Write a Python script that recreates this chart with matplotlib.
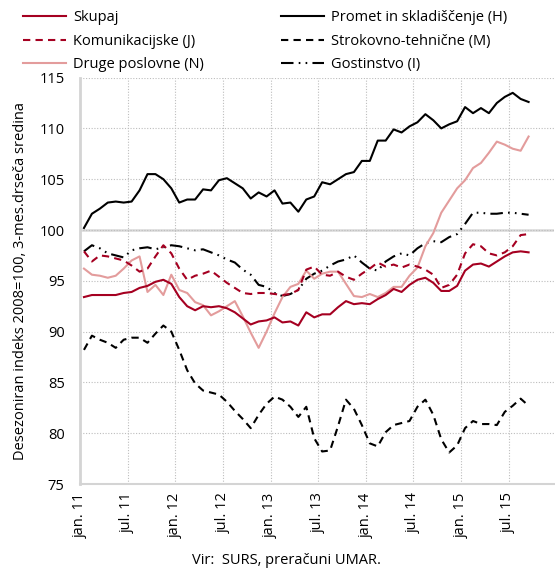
import numpy as np
import matplotlib
matplotlib.use("Agg")
import matplotlib.pyplot as plt
from matplotlib.transforms import ScaledTranslation

plt.rcParams["font.family"] = ["Open Sans", "DejaVu Sans"]

# monthly data, jan 2011 - sep 2015
skupaj = [93.4, 93.6, 93.6, 93.6, 93.6, 93.8, 93.9, 94.3, 94.5, 94.9, 95.1, 94.7, 93.4, 92.5, 92.1,
          92.5, 92.4, 92.5, 92.3, 91.9, 91.3, 90.7, 91.0, 91.1, 91.4, 90.9, 91.0, 90.6, 91.9, 91.4,
          91.7, 91.7, 92.4, 93.0, 92.7, 92.8, 92.7, 93.2, 93.6, 94.2, 93.9, 94.6, 95.1, 95.3, 94.8,
          94.0, 94.0, 94.5, 96.0, 96.6, 96.7, 96.4, 96.9, 97.4, 97.8, 97.9, 97.8]
komunikacijske = [97.9, 96.9, 97.5, 97.4, 97.2, 97.0, 96.5, 95.9, 96.2, 97.4, 98.5, 97.7, 96.2, 95.1, 95.5,
                  95.7, 96.0, 95.4, 94.8, 94.3, 93.8, 93.7, 93.8, 93.8, 93.7, 93.6, 93.7, 94.1, 96.1, 96.4,
                  95.6, 95.5, 95.9, 95.4, 95.1, 95.7, 96.2, 96.8, 96.4, 96.6, 96.3, 96.6, 96.4, 96.1, 95.6,
                  94.3, 94.6, 95.6, 97.7, 98.6, 98.4, 97.7, 97.5, 97.8, 98.4, 99.5, 99.6]
druge = [96.2, 95.6, 95.5, 95.3, 95.5, 96.2, 97.0, 97.4, 93.9, 94.6, 93.6, 95.6, 94.1, 93.8, 92.9,
         92.6, 91.6, 92.0, 92.5, 93.0, 91.5, 89.9, 88.4, 90.0, 91.8, 93.4, 94.4, 94.7, 96.0, 95.2,
         95.7, 95.9, 95.9, 94.7, 93.5, 93.4, 93.7, 93.4, 93.8, 94.4, 94.4, 95.5, 96.3, 98.4, 99.7,
         101.7, 102.9, 104.1, 104.9, 106.1, 106.6, 107.6, 108.7, 108.4, 108.0, 107.8, 109.2]
promet = [100.2, 101.6, 102.1, 102.7, 102.8, 102.7, 102.8, 103.9, 105.5, 105.5, 105.0, 104.1, 102.7, 103.0, 103.0,
          104.0, 103.9, 104.9, 105.1, 104.6, 104.1, 103.1, 103.7, 103.3, 103.9, 102.6, 102.7, 101.8, 103.0, 103.3,
          104.7, 104.5, 105.0, 105.5, 105.7, 106.8, 106.8, 108.8, 108.8, 109.9, 109.6, 110.2, 110.6, 111.4, 110.8,
          110.0, 110.4, 110.7, 112.1, 111.5, 112.0, 111.5, 112.5, 113.1, 113.5, 112.9, 112.6]
strokovno = [88.2, 89.6, 89.2, 88.9, 88.4, 89.2, 89.4, 89.4, 88.9, 89.8, 90.6, 90.0, 88.2, 86.2, 84.9,
             84.2, 84.0, 83.8, 83.1, 82.2, 81.4, 80.5, 81.8, 82.9, 83.6, 83.3, 82.6, 81.6, 82.6, 79.5,
             78.2, 78.3, 80.7, 83.3, 82.4, 80.8, 79.0, 78.7, 80.1, 80.8, 81.0, 81.2, 82.6, 83.3, 81.8,
             79.4, 78.1, 78.8, 80.5, 81.2, 80.9, 80.9, 80.8, 82.1, 82.7, 83.4, 82.7]
gostinstvo = [97.9, 98.5, 98.2, 97.7, 97.5, 97.3, 98.0, 98.2, 98.3, 98.1, 98.3, 98.5, 98.4, 98.2, 98.0,
              98.1, 97.8, 97.5, 97.1, 96.8, 96.1, 95.6, 94.6, 94.4, 93.8, 93.5, 93.7, 94.1, 95.2, 95.7,
              96.0, 96.5, 96.9, 97.1, 97.5, 96.8, 96.2, 96.0, 96.9, 97.4, 97.7, 97.5, 98.2, 98.7, 98.9,
              98.8, 99.3, 99.6, 100.6, 101.7, 101.7, 101.6, 101.6, 101.7, 101.7, 101.6, 101.5]

tick_labels = ["jan. 11", "jul. 11", "jan. 12", "jul. 12", "jan. 13", "jul. 13",
               "jan. 14", "jul. 14", "jan. 15", "jul. 15"]

dark_red = "#a50021"
pink = "#e39c9c"

fig = plt.figure(figsize=(5.55, 5.70), dpi=100)
ax = fig.add_axes([80 / 555, 1 - 484 / 570, 474 / 555, 406.4 / 570])

x = np.arange(len(skupaj)) + 0.5
lw = 1.5
ax.plot(x, gostinstvo, color="black", lw=lw, ls=(0, (6, 2.5, 0.8, 2.5, 0.8, 2.5)), label="Gostinstvo (I)")
ax.plot(x, strokovno, color="black", lw=lw, ls=(0, (3.5, 2.5)), label="Strokovno-tehnične (M)")
ax.plot(x, promet, color="black", lw=lw, label="Promet in skladiščenje (H)")
ax.plot(x, druge, color=pink, lw=lw, label="Druge poslovne (N)")
ax.plot(x, komunikacijske, color=dark_red, lw=lw, ls=(0, (3.5, 2.5)), label="Komunikacijske (J)")
ax.plot(x, skupaj, color=dark_red, lw=lw, label="Skupaj")

ax.set_xlim(0, 59.7)
ax.set_ylim(75, 115)
ax.set_yticks(np.arange(75, 116, 5))
ax.set_xticks(np.arange(0, 60, 6))
ax.set_xticklabels(tick_labels, rotation=90, va="top", ha="center")
for lab in ax.get_xticklabels():
    lab.set_transform(lab.get_transform() + ScaledTranslation(0.05, 0, fig.dpi_scale_trans))
ax.tick_params(axis="both", length=0, labelsize=10.5)
ax.tick_params(axis="y", pad=11)
ax.tick_params(axis="x", pad=6)

ax.grid(True, color="#bdbdbd", ls=(0, (1, 1.5)), lw=0.8)
ax.axhline(100, color="#d9d9d9", lw=1.8, zorder=1.5)
for s in ["top", "right"]:
    ax.spines[s].set_visible(False)
ax.spines["left"].set_color("#d4d4d4")
ax.spines["left"].set_linewidth(2)
ax.spines["bottom"].set_color("#d4d4d4")
ax.spines["bottom"].set_linewidth(1.5)

ax.set_ylabel("Desezoniran indeks 2008=100, 3-mes.drseča sredina", fontsize=10.5, labelpad=8)

h = {l.get_label(): l for l in ax.get_lines()}
left_items = ["Skupaj", "Komunikacijske (J)", "Druge poslovne (N)"]
right_items = ["Promet in skladiščenje (H)", "Strokovno-tehnične (M)", "Gostinstvo (I)"]
leg_kw = dict(loc="upper left", frameon=False, fontsize=10.5, handlelength=2.9,
              handletextpad=0.5, labelspacing=0.58, borderpad=0.2)
fig.legend([h[k] for k in left_items], left_items, bbox_to_anchor=(13 / 555, 1.0), **leg_kw)
fig.legend([h[k] for k in right_items], right_items, bbox_to_anchor=(271 / 555, 1.0), **leg_kw)

fig.text(287 / 555, 1 - 561 / 570, "Vir:  SURS, preračuni UMAR.", ha="center", va="center", fontsize=10.5)

fig.savefig("out.png", dpi=100)
